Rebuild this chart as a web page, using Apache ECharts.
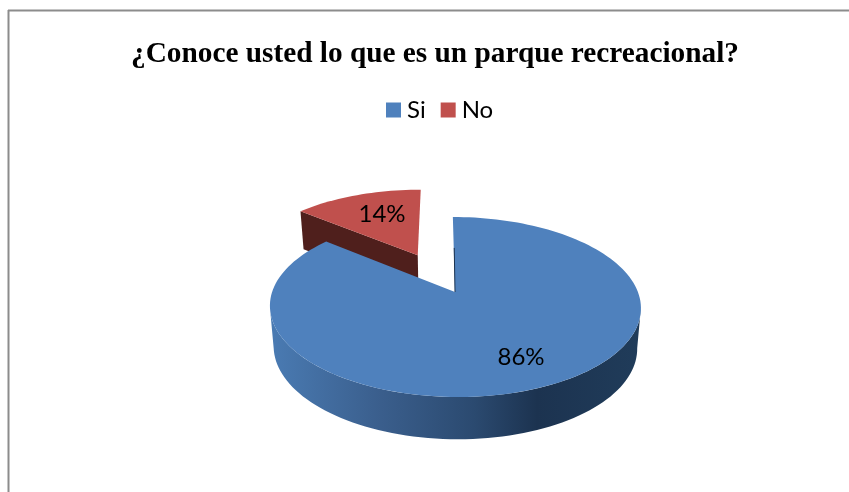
<!DOCTYPE html>
<html>
<head>
<meta charset="utf-8">
<style>html,body{margin:0;padding:0;background:#fff}#main{width:849px;height:492px}</style>
<script src="https://cdn.jsdelivr.net/npm/echarts@6/dist/echarts.min.js"></script>
</head>
<body>
<div id="main"></div>
<script>
// datos del grafico
var categories = ['Si', 'No'];
var values = [86, 14];
var colors = ['#4f81bd', '#c0504d'];
var titleText = '¿Conoce usted lo que es un parque recreacional?';

var total = values[0] + values[1];

// angulos de cada porcion, 0 = arriba y sentido horario
var angles = [];
var acum = 0;
for (var i = 0; i < values.length; i++) {
    angles.push([acum / total * 360, (acum + values[i]) / total * 360]);
    acum += values[i];
}

// vista 3D: circulo unidad proyectado con perspectiva
var view = {x0: 455, y0: 292, A: 182.9, B: 87.5, k: 1 / 6, skew: 2.5, depth: 40};
var explodeNo = 0.5;

// u,v en el plano de la torta; base = true para la cara de abajo
function project(u, v, base) {
    var w = 1 + view.k * v;
    var x = view.A * u / w - view.skew * v / w;
    var y = view.y0 - view.B * v / w;
    if (base) {
        x = x * 0.98;
        y += view.depth / Math.pow(w, 0.3);
    }
    return [view.x0 + x, y];
}
function rim(deg, ox, oy, base) {
    var r = deg * Math.PI / 180;
    return project(ox + Math.sin(r), oy + Math.cos(r), base);
}
function arc(from, to, ox, oy, base) {
    var pts = [];
    var n = Math.ceil(Math.abs(to - from) / 2);
    for (var k = 0; k <= n; k++) {
        pts.push(rim(from + (to - from) * k / n, ox, oy, base));
    }
    return pts;
}

function renderSi(params, api) {
    var ang = angles[0];
    var apex = project(0, 0, false);
    var sidePts = arc(100, 260, 0, 0, false).concat(arc(260, 100, 0, 0, true));
    var topPts = [apex].concat(arc(ang[0], ang[1], 0, 0, false));
    var wall = project(0, 0.55, false);
    return {
        type: 'group',
        children: [
            {
                type: 'polygon',
                shape: {points: sidePts},
                style: {fill: new echarts.graphic.LinearGradient(0, 0, 1, 0, [
                    {offset: 0, color: '#4a7bb3'},
                    {offset: 0.3, color: '#3a5e8c'},
                    {offset: 0.55, color: '#2b4a70'},
                    {offset: 0.72, color: '#1c3350'},
                    {offset: 1, color: '#203c5a'}
                ])}
            },
            {
                type: 'polygon',
                shape: {points: topPts},
                style: {fill: colors[0]}
            },
            {
                type: 'line',
                shape: {x1: wall[0] + 0.5, y1: wall[1], x2: apex[0], y2: apex[1]},
                style: {stroke: '#1c3350', lineWidth: 1}
            },
            {
                type: 'text',
                style: {
                    x: 521, y: 357, text: api.value(0) + '%',
                    fill: '#000', font: '24px Lato',
                    align: 'center', verticalAlign: 'middle'
                }
            }
        ]
    };
}

function renderNo(params, api) {
    var ang = angles[1];
    // la porcion se separa hacia su angulo medio
    var mid = (ang[0] + ang[1]) / 2 * Math.PI / 180;
    var ox = Math.sin(mid) * explodeNo;
    var oy = Math.cos(mid) * explodeNo;
    var apexTop = project(ox, oy, false);
    var apexBase = project(ox, oy, true);
    var sidePts = [apexTop, rim(ang[0], ox, oy, false), rim(ang[0], ox, oy, true), apexBase];
    var topPts = [apexTop].concat(arc(ang[0], ang[1], ox, oy, false));
    return {
        type: 'group',
        children: [
            {type: 'polygon', shape: {points: sidePts}, style: {fill: '#4f1f1c'}},
            {type: 'polygon', shape: {points: topPts}, style: {fill: colors[1]}},
            {
                type: 'text',
                style: {
                    x: 382, y: 214, text: api.value(0) + '%',
                    fill: '#000', font: '24px Lato',
                    align: 'center', verticalAlign: 'middle'
                }
            }
        ]
    };
}

var myChart = echarts.init(document.getElementById('main'));
myChart.setOption({
    animation: false,
    backgroundColor: '#fff',
    title: {
        text: titleText,
        left: 126,
        top: 35,
        textStyle: {fontFamily: 'Liberation Serif', fontWeight: 'bold', fontSize: 29.3, color: '#000'}
    },
    legend: {
        left: 381,
        top: 93,
        icon: 'rect',
        itemWidth: 15,
        itemHeight: 15,
        itemGap: 15,
        selectedMode: false,
        data: categories,
        textStyle: {fontFamily: 'Lato', fontSize: 24, color: '#000', padding: [0, 0, 0, 1]}
    },
    // borde del grafico, recortado a la derecha y abajo
    graphic: [
        {type: 'line', silent: true, shape: {x1: 8.5, y1: 10, x2: 8.5, y2: 492}, style: {stroke: '#8c8c8c', lineWidth: 2}},
        {type: 'line', silent: true, shape: {x1: 8, y1: 10.5, x2: 849, y2: 10.5}, style: {stroke: '#8c8c8c', lineWidth: 2}}
    ],
    series: [
        {
            type: 'custom',
            name: categories[0],
            coordinateSystem: 'none',
            z: 3,
            itemStyle: {color: colors[0]},
            renderItem: renderSi,
            data: [[values[0]]]
        },
        {
            type: 'custom',
            name: categories[1],
            coordinateSystem: 'none',
            z: 2,
            itemStyle: {color: colors[1]},
            renderItem: renderNo,
            data: [[values[1]]]
        }
    ]
});
</script>
</body>
</html>
